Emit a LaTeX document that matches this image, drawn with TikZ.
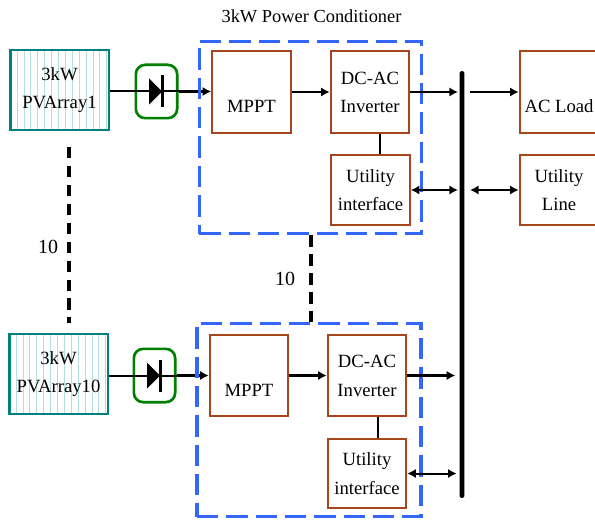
\documentclass[tikz,border=0pt]{standalone}
\usepackage{fontspec}
\usetikzlibrary{arrows.meta}
\setmainfont{Liberation Serif}
\definecolor{pvteal}{HTML}{008080}
\definecolor{pvhatch}{HTML}{B5DEDE}
\definecolor{blockred}{HTML}{A5461E}
\definecolor{diodegreen}{HTML}{008000}
\definecolor{condblue}{HTML}{3366FF}
\tikzset{basic/.style={draw,align=center,inner sep=0pt,
                       font=\fontsize{14}{21.5}\selectfont}}
\tikzset{block/.style={basic,draw=blockred,line width=1.4pt,minimum width=59pt,
                       minimum height=61pt,execute at begin node={\rule{0pt}{2.25em}}}}
\tikzset{monoblock/.style={block,execute at begin node={\rule{0pt}{1.2em}}}}
\tikzset{utilblock/.style={block,minimum height=52pt,
                       execute at begin node={\rule{0pt}{1.6em}}}}
\tikzset{pvarray/.style={basic,draw=pvteal,line width=2pt,minimum width=74pt,
                       minimum height=60pt,execute at begin node={\rule{0pt}{1.9em}},
                       path picture={\foreach \hx in {1,...,14}{%
                         \draw[pvhatch,line width=.7pt]
                           (path picture bounding box.north west) ++(\hx*6.9,0) -- ++(0,90);
                         }}}}
\tikzset{diodebox/.style={draw=diodegreen,line width=2pt,rounded corners=7pt,
                       minimum width=31pt,minimum height=40pt}}
\tikzset{condbox/.style={draw=condblue,line width=2.4pt,dash pattern=on 16pt off 6pt}}
\tikzset{link/.style={line width=1.5pt}}
\tikzset{wire/.style={link,->}}
\tikzset{heavywire/.style={line width=2.2pt,->}}
\tikzset{repeatlink/.style={line width=2.5pt,dash pattern=on 8.5pt off 5.7pt}}
\newcommand{\diodesym}{\fill (-7.5,-13) -- (5.5,0) -- (-7.5,13) -- cycle;
                       \draw[line width=2pt] (6,-16) -- (6,16);}

\begin{document}
\begin{tikzpicture}[x=.75pt,y=-.75pt,>={Latex[length=6.5pt,width=7pt]}]
    \useasboundingbox (0,0) rectangle (595,520);
    % Arrays and diodes
    \node[pvarray] (pv1) at (59.5,90) {3kW\\PVArray1};
    \node[pvarray] (pv10) at (58.5,374) {3kW\\PVArray10};
    \node[diodebox] (dio1) at (156.5,91.5) {};
    \node[diodebox] (dio10) at (154.5,375.5) {};
    % Converter blocks
    \node[monoblock] (mppt1) at (251.5,92) {MPPT};
    \node[block] (inv1) at (370,92) {DC-AC\\Inverter};
    \node[utilblock] (util1) at (370.5,190) {Utility\\interface};
    \node[monoblock] (mppt10) at (249,375.5) {MPPT};
    \node[block] (inv10) at (367,375.5) {DC-AC\\Inverter};
    \node[utilblock] (util10) at (367,473.5) {Utility\\interface};
    \node[monoblock] (load) at (559,92) {AC Load};
    \node[utilblock] (line) at (559,190) {Utility\\Line};
    % Bus
    \node[fill=black,rounded corners=1.5pt,minimum width=3.6pt,minimum height=320pt,inner sep=0pt] (bus) at (462,284.5) {};
    % Input wires
    \draw[link] (pv1.east |- dio1) -- (dio1.west);
    \draw[link] (dio1.west) -- (dio1.east);
    \draw[heavywire] (dio1.east) -- (mppt1.west |- dio1);
    \draw[link] (pv10.east |- dio10) -- (dio10.west);
    \draw[link] (dio10.west) -- (dio10.east);
    \draw[heavywire] (dio10.east) -- (mppt10.west |- dio10);
    \begin{scope}[shift={(dio1.center)}]
      \diodesym
    \end{scope}
    \begin{scope}[shift={(dio10.center)}]
      \diodesym
    \end{scope}
    % Power conditioners
    \node[condbox,minimum width=167pt,minimum height=144.5pt] (cond1) at (310.5,137.5) {};
    \node[condbox,minimum width=168pt,minimum height=145pt] (cond10) at (309,420) {};
    % Inner wires
    \draw[wire] (mppt1) -- (inv1);
    \draw[heavywire] (mppt10) -- (inv10);
    \draw[link] ([xshift=7.5pt]inv1.south) -- ([xshift=7.5pt]inv1.south |- util1.north);
    \draw[link] ([xshift=8.25pt]inv10.south) -- ([xshift=8.25pt]inv10.south |- util10.north);
    \draw[heavywire,shorten >=1pt] (inv1.east) -- (bus.west |- inv1);
    \draw[heavywire,shorten >=3pt] (inv10.east) -- (bus.west |- inv10);
    \draw[link,<->,shorten >=1pt] (util1.east) -- (bus.west |- util1);
    \draw[link,<->,shorten >=2pt] (util10.east) -- (bus.west |- util10);
    \draw[wire,shorten <=4pt] (bus.east |- load) -- (load.west);
    \draw[link,<->,shorten <=4pt] (bus.east |- line) -- (line.west);
    % Repeat marks
    \coordinate (rep1a) at (69,147);
    \coordinate (rep1b) at (69,323);
    \draw[repeatlink] (rep1a) -- (rep1b);
    \draw[repeatlink,line width=3.2pt] (311,0 |- cond1.south) -- (311,0 |- cond10.north);
    % Labels
    \node[font=\fontsize{15}{18}\selectfont] (num1) at (48,247) {10};
    \node[font=\fontsize{15}{18}\selectfont] (num2) at (285,279) {10};
    \node[font=\fontsize{13.8}{16}\selectfont] (title) at (311.5,16) {3kW Power Conditioner};
\end{tikzpicture}
\end{document}
